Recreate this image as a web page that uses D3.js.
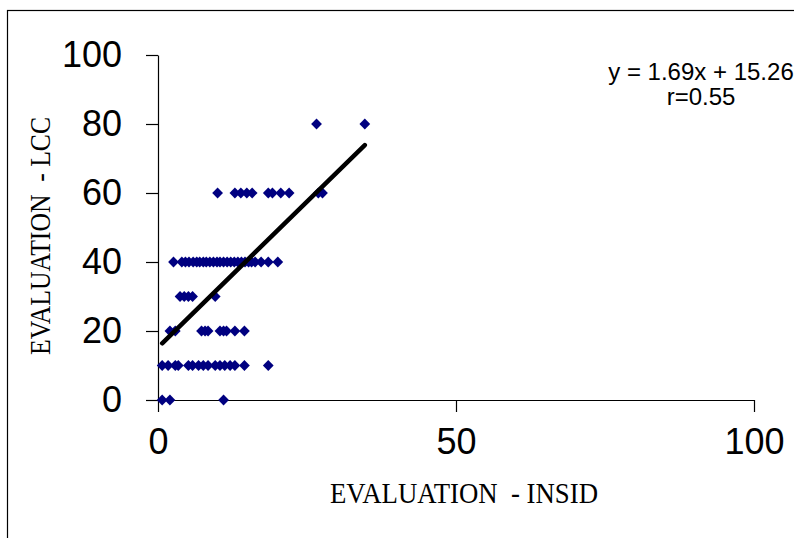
<!DOCTYPE html>
<html>
<head>
<meta charset="utf-8">
<script src="https://cdn.jsdelivr.net/npm/d3@7"></script>
<style>
    body { margin: 0; background: #fff; }
    svg { display: block; }
</style>
</head>
<body>
<svg id="drawing_region"></svg>
<script>
// values, one row per LCC level
const lcc_levels = [80, 60, 40, 30, 20, 10, 0];
const insid_80 = [26.6, 34.7];
const insid_60 = [10.0, 12.9, 13.9, 14.9, 15.8, 18.5, 19.2, 20.6, 22.0, 26.9, 27.6];
const insid_40 = [2.6, 4.0, 4.6, 5.2, 5.9, 6.5, 7.0, 7.6, 8.1, 8.7, 9.3, 9.9, 10.4, 11.0, 11.6, 12.2,
                  12.8, 13.4, 14.0, 14.6, 15.2, 15.7, 16.3, 17.3, 18.5, 20.1];
const insid_30 = [3.7, 4.4, 5.1, 5.8, 9.6];
const insid_20 = [2.0, 2.9, 7.3, 7.9, 8.4, 10.4, 11.0, 11.5, 12.9, 14.5];
const insid_10 = [0.7, 1.7, 2.9, 3.4, 5.1, 5.8, 6.8, 7.6, 8.4, 9.6, 10.4, 11.2, 12.1, 12.9, 14.5, 18.5];
const insid_0 = [0.7, 2.0, 11.0];

const x_ticks = [0, 50, 100];
const y_ticks = [0, 20, 40, 60, 80, 100];
const slope = 1.69;
const intercept = 15.26;
const r_value = 0.55;

const rows = [insid_80, insid_60, insid_40, insid_30, insid_20, insid_10, insid_0];
const data = [];
rows.forEach((xs, i) => xs.forEach(x => data.push({ x: x, y: lcc_levels[i] })));

const config = {
    width: 794,
    height: 538,
    margin: { top: 55, right: 40, bottom: 138, left: 158 }
};

const svg = d3.select('#drawing_region')
    .attr('width', config.width)
    .attr('height', config.height);

// outer frame (cropped at right and bottom)
svg.append('rect')
    .attr('x', 7.5).attr('y', 10.5)
    .attr('width', 820).attr('height', 560)
    .attr('fill', 'none')
    .attr('stroke', '#000')
    .attr('stroke-width', 1.2);

const inner_width = 754 - config.margin.left;
const inner_height = 400 - config.margin.top;

const chart = svg.append('g')
    .attr('transform', `translate(${config.margin.left}, ${config.margin.top})`);

const xscale = d3.scaleLinear().domain([0, 100]).range([0, inner_width]);
const yscale = d3.scaleLinear().domain([0, 100]).range([inner_height, 0]);

const xaxis = d3.axisBottom(xscale).tickValues(x_ticks).tickSize(12).tickSizeOuter(0).tickPadding(16);
const yaxis = d3.axisLeft(yscale).tickValues(y_ticks).tickSize(12).tickSizeOuter(0).tickPadding(24);

const xaxis_group = chart.append('g')
    .attr('transform', `translate(0, ${inner_height})`)
    .call(xaxis);
const yaxis_group = chart.append('g')
    .call(yaxis);

[xaxis_group, yaxis_group].forEach(g => {
    g.select('.domain').attr('stroke', '#000').attr('stroke-width', 1.2);
    g.selectAll('.tick line').attr('stroke', '#000').attr('stroke-width', 1.2);
    g.selectAll('.tick text')
        .attr('fill', '#000')
        .style('font-family', 'Arial, "Liberation Sans", sans-serif')
        .style('font-size', '36px');
});

// points
chart.selectAll('path.point')
    .data(data)
    .enter()
    .append('path')
    .attr('class', 'point')
    .attr('d', d3.symbol(d3.symbolSquare, 58))
    .attr('transform', d => `translate(${xscale(d.x)}, ${yscale(d.y)}) rotate(45)`)
    .attr('fill', '#000080');

// trend line over the data's x range
const x_ext = d3.extent(data, d => d.x);
chart.append('line')
    .attr('x1', xscale(x_ext[0]))
    .attr('y1', yscale(slope * x_ext[0] + intercept))
    .attr('x2', xscale(x_ext[1]))
    .attr('y2', yscale(slope * x_ext[1] + intercept))
    .attr('stroke', '#000')
    .attr('stroke-width', 4.5)
    .attr('stroke-linecap', 'round');

// equation
const eq = svg.append('text')
    .attr('text-anchor', 'middle')
    .style('font-family', 'Arial, "Liberation Sans", sans-serif')
    .style('font-size', '24px');
eq.append('tspan').attr('x', 701).attr('y', 80)
    .text(`y = ${slope}x + ${intercept}`);
eq.append('tspan').attr('x', 701).attr('y', 105)
    .text(`r=${r_value}`);

// axis titles
svg.append('text')
    .attr('x', 464)
    .attr('y', 503)
    .attr('text-anchor', 'middle')
    .attr('textLength', 268)
    .attr('lengthAdjust', 'spacingAndGlyphs')
    .style('white-space', 'pre')
    .style('font-family', '"Times New Roman", "Liberation Serif", serif')
    .style('font-size', '30px')
    .text('EVALUATION  - INSID');

svg.append('text')
    .attr('transform', 'translate(50, 236) rotate(-90)')
    .attr('text-anchor', 'middle')
    .attr('textLength', 238)
    .attr('lengthAdjust', 'spacingAndGlyphs')
    .style('white-space', 'pre')
    .style('font-family', '"Times New Roman", "Liberation Serif", serif')
    .style('font-size', '30px')
    .text('EVALUATION  - LCC');
</script>
</body>
</html>
